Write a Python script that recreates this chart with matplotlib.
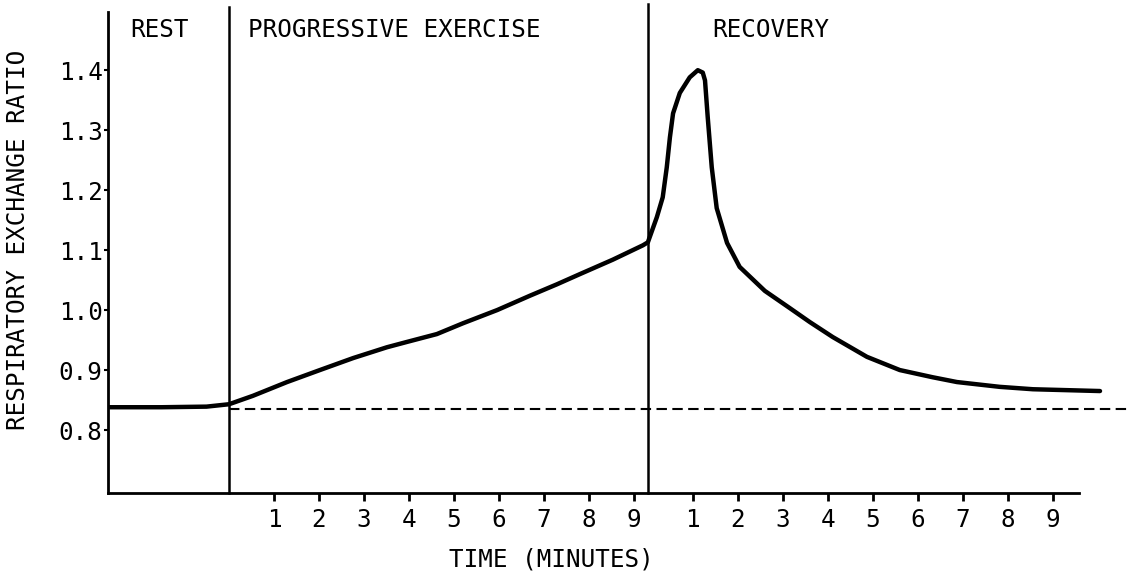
import numpy as np
import matplotlib
matplotlib.use("Agg")
import matplotlib.pyplot as plt

# Respiratory exchange ratio (RER) during rest, progressive exercise and recovery
restStart = -2.69          # minutes before exercise onset (left edge of the chart)
exerciseEnd = 9.31         # minutes of progressive exercise
baseline = 0.835           # resting RER (dashed reference)

restTime = [-2.69, -1.5, -0.5, 0.0]
restRer = [0.838, 0.838, 0.839, 0.843]

exerciseTime = [0.0, 0.53, 1.29, 2.02, 2.76, 3.51, 3.96, 4.62, 5.2, 5.96, 6.69, 7.29, 7.8, 8.53, 9.2, 9.31]
exerciseRer = [0.843, 0.857, 0.880, 0.900, 0.920, 0.938, 0.947, 0.960, 0.978, 1.000, 1.024, 1.043,
               1.060, 1.084, 1.108, 1.113]

recoveryTime = [0.0, 0.2, 0.33, 0.42, 0.49, 0.56, 0.71, 0.93, 1.11, 1.22, 1.27, 1.33, 1.42, 1.53,
                1.76, 2.04, 2.6, 3.16, 3.6, 4.11, 4.87, 5.6, 6.33, 6.87, 7.82, 8.56, 10.05]
recoveryRer = [1.113, 1.155, 1.188, 1.238, 1.288, 1.328, 1.362, 1.388, 1.400, 1.396, 1.383, 1.322,
               1.238, 1.170, 1.112, 1.072, 1.032, 1.003, 0.980, 0.955, 0.922, 0.900, 0.888, 0.880,
               0.872, 0.868, 0.865]

tickLabels = ["1", "2", "3", "4", "5", "6", "7", "8", "9"]
yTicks = [0.8, 0.9, 1.0, 1.1, 1.2, 1.3, 1.4]


def main():
    plt.rcParams["font.family"] = ["DejaVu Sans Mono"]
    fig = plt.figure(figsize=(11.27, 5.80), dpi=100)
    ax = fig.add_axes([108 / 1127, 87 / 580, 1019 / 1127, 481 / 580])

    xRight = 19.96
    ax.set_xlim(restStart, xRight)
    ax.set_ylim(0.695, 1.497)

    # the RER curve, one continuous line through all three phases
    t = np.concatenate([restTime, exerciseTime, exerciseEnd + np.array(recoveryTime)])
    r = np.concatenate([restRer, exerciseRer, recoveryRer])
    ax.plot(t, r, color="black", lw=3.2, solid_capstyle="round", solid_joinstyle="round")

    # resting baseline, dashed, runs off the right edge
    ax.plot([0.0, xRight], [baseline, baseline], color="black", lw=1.5,
            dashes=(5, 2.6), clip_on=False)

    # phase dividers
    for xx, top in [(0.0, 1.505), (exerciseEnd, 1.51)]:
        ax.plot([xx, xx], [0.695, top], color="black", lw=1.8, clip_on=False)

    # phase titles
    ax.text(-2.2, 1.467, "REST", fontsize=17.5, va="center", ha="left")
    ax.text(0.42, 1.467, "PROGRESSIVE EXERCISE", fontsize=17.5, va="center", ha="left")
    ax.text(exerciseEnd + 1.42, 1.467, "RECOVERY", fontsize=17.5, va="center", ha="left")

    # minute ticks restart at each phase
    exTicks = np.arange(1, 10)
    ax.set_xticks(list(exTicks) + list(exerciseEnd + exTicks), tickLabels + tickLabels)
    ax.set_yticks(yTicks, ["%.1f" % v for v in yTicks])
    ax.tick_params(axis="x", direction="out", length=6, width=2, pad=5, labelsize=17.5)
    ax.tick_params(axis="y", direction="out", length=3, width=1.5, pad=1, labelsize=17.5)

    for side in ["top", "right"]:
        ax.spines[side].set_visible(False)
    ax.spines["left"].set_linewidth(2)
    ax.spines["bottom"].set_linewidth(2)
    ax.spines["bottom"].set_bounds(restStart, 18.9)

    ax.text(-0.088, 0.526, "RESPIRATORY EXCHANGE RATIO", rotation=90, fontsize=17.5,
            ha="center", va="center", transform=ax.transAxes)
    ax.text(0.4347, -0.139, "TIME (MINUTES)", fontsize=17.5,
            ha="center", va="center", transform=ax.transAxes)

    fig.savefig("out.png", dpi=100)


if __name__ == '__main__':
    main()
